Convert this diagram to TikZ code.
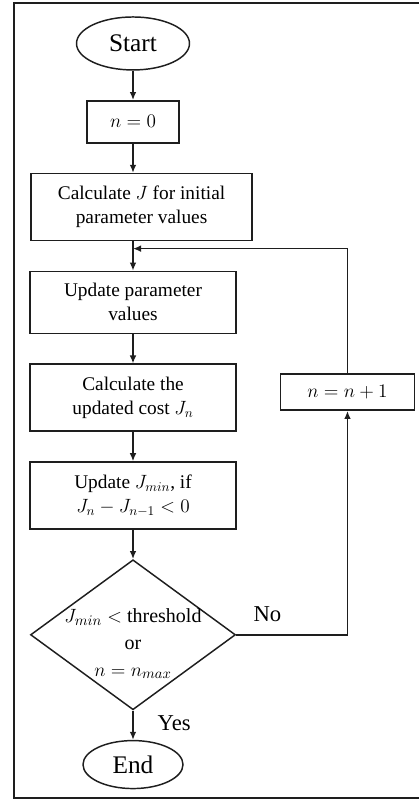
\documentclass[tikz,border=0pt]{standalone}
\usepackage{fontspec}
\setmainfont{Liberation Serif}
\usetikzlibrary{arrows.meta,positioning,shapes.geometric}
\definecolor{Ink}{HTML}{1E1E1E}
\tikzset{
  box/.style={draw=Ink,fill=white,line width=1.1pt,align=center,inner sep=2pt,font=\fontsize{14.5}{18}\selectfont},
  term/.style={ellipse,draw=Ink,fill=white,line width=1.1pt,inner sep=0pt,font=\fontsize{19}{22}\selectfont},
  decide/.style={diamond,draw=Ink,fill=white,line width=1.1pt,align=center,aspect=1.37,inner xsep=0pt,inner ysep=-17pt,font=\fontsize{15}{20}\selectfont},
  flow/.style={-{Latex[length=6pt,width=5pt]},draw=Ink,line width=1.1pt},
  tag/.style={font=\fontsize{17}{20}\selectfont,inner sep=0pt}
}

\begin{document}
\begin{tikzpicture}[node distance=22pt]
  \useasboundingbox (0,0) rectangle (313.5pt,-600pt);
  % page frame, open to the right
  \draw[Ink,line width=1.8pt] (340pt,-2.25pt) -- (10.5pt,-2.25pt) -- (10.5pt,-598.5pt) -- (340pt,-598.5pt);
  % main column
  \node[term,minimum width=84.75pt,minimum height=39.75pt] (start) at (99.75pt,-32.6pt) {Start};
  \node[box,minimum width=69pt,minimum height=31.5pt,below=of start] (init) {$n=0$};
  \node[box,minimum width=165.75pt,minimum height=50.25pt,below=of init,xshift=6.4pt] (calcJ) {Calculate $J$ for initial\\parameter values};
  \node[box,minimum width=154.5pt,minimum height=46.5pt,below=of calcJ.south-|init.south,anchor=north] (update) {Update parameter\\values};
  \node[box,minimum width=154.5pt,minimum height=50.25pt,below=of update] (cost) {Calculate the\\updated cost $J_n$};
  \node[box,minimum width=154.5pt,minimum height=50.25pt,below=of cost] (best) {Update $J_{min}$, if\\$J_n-J_{n-1}<0$};
  \node[decide,minimum width=153.75pt,minimum height=112.5pt,below=of best] (stop) {\rule{0pt}{24pt}$J_{min}<$ threshold\\or\\$n=n_{max}$};
  \node[term,minimum width=75pt,minimum height=36pt,below=of stop] (finish) {End};
  % counter on the return branch
  \node[box,minimum width=100.5pt,minimum height=27pt,right=32.25pt of cost,yshift=4.1pt] (incr) {$n=n+1$};
  \coordinate[above=16.5pt of update.north] (merge);
  % arrows
  \draw[flow] (start) -- (init);
  \draw[flow] (init) -- (init.south|-calcJ.north);
  \draw[flow] (merge|-calcJ.south) -- (update);
  \draw[flow] (update) -- (cost);
  \draw[flow] (cost) -- (best);
  \draw[flow] (best) -- (stop);
  \draw[flow] (stop) -- node[tag,pos=.42,right=18pt] {Yes} (finish);
  \draw[flow] (stop.east) -- node[tag,pos=.28,above=9pt] {No} (stop.east-|incr) -- (incr);
  \draw[flow] (incr) |- (merge);
\end{tikzpicture}
\end{document}
